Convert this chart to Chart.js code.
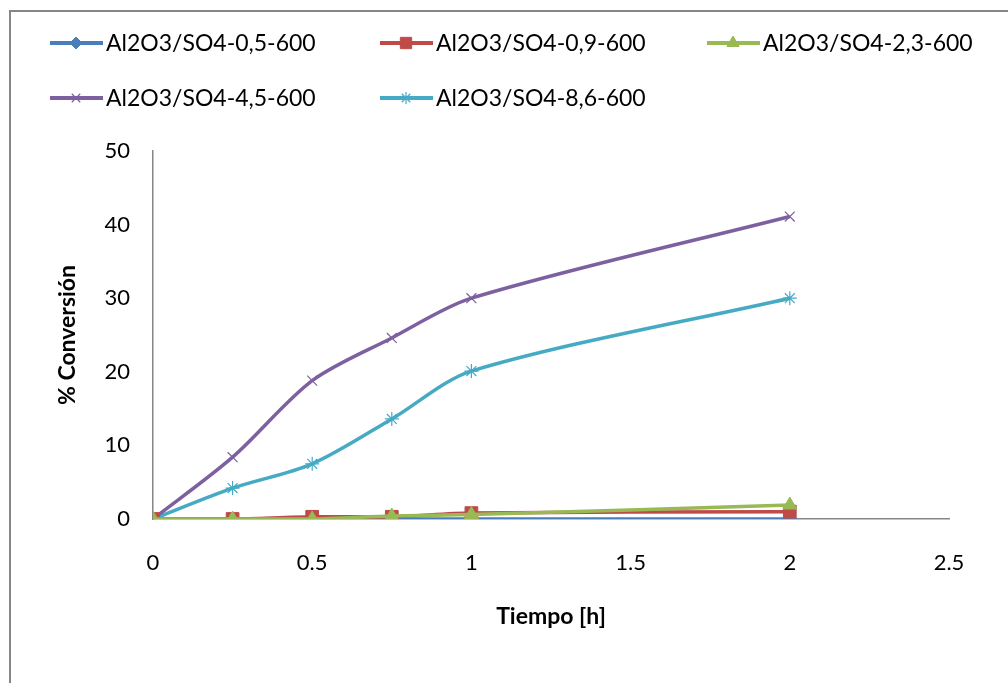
<!DOCTYPE html>
<html>
<head>
<meta charset="utf-8">
<script src="https://cdn.jsdelivr.net/npm/chart.js@4/dist/chart.umd.min.js"></script>
<style>
  html, body { margin: 0; padding: 0; background: #fff; }
  #wrap { width: 1008px; height: 683px; }
</style>
</head>
<body>
<div id="wrap"><canvas id="chart" width="1008" height="683"></canvas></div>
<script>
// --- data ---
const tiempo = [0, 0.25, 0.5, 0.75, 1, 2];
const conv05 = [0, 0, 0, 0, 0, 0];
const conv09 = [0, 0, 0.3, 0.3, 0.8, 1.0];
const conv23 = [0, 0, 0, 0.4, 0.6, 1.9];
const conv45 = [0, 8.4, 18.8, 24.6, 30.0, 41.1];
const conv86 = [0, 4.2, 7.5, 13.6, 20.1, 30.0];

const labels = ['Al2O3/SO4-0,5-600', 'Al2O3/SO4-0,9-600', 'Al2O3/SO4-2,3-600', 'Al2O3/SO4-4,5-600', 'Al2O3/SO4-8,6-600'];
const colors = ['#4a7ebb', '#be4b48', '#98b954', '#7d60a0', '#46aac5'];
const markers = ['rectRot', 'rect', 'triangle', 'crossRot', 'star'];
const markerSize = [7, 9, 8, 7, 7];
const xTicks = [0, 0.5, 1, 1.5, 2, 2.5];

const FONT = 'Lato, "Open Sans", sans-serif';

function toPoints(ys) {
    return tiempo.map((t, i) => ({ x: t, y: ys[i] }));
}

const series = [conv05, conv09, conv23, conv45, conv86];
// lower order is painted on top: green over red over blue, big curves underneath
const drawOrder = [2, 1, 0, 3, 4];
const datasets = series.map((ys, i) => ({
    label: labels[i],
    data: toPoints(ys),
    order: drawOrder[i],
    borderColor: colors[i],
    backgroundColor: colors[i],
    borderWidth: 3.5,
    showLine: true,
    tension: 0.3,
    pointStyle: markers[i],
    pointRadius: markerSize[i],
    pointBorderWidth: (markers[i] === 'crossRot' || markers[i] === 'star') ? 1.2 : 1,
    pointBorderColor: colors[i],
    pointBackgroundColor: colors[i]
}));

// frame + custom legend laid out like the spreadsheet one
const frameAndLegend = {
    id: 'frameAndLegend',
    beforeDraw(chart) {
        const ctx = chart.ctx;
        ctx.save();
        ctx.strokeStyle = '#868686';
        ctx.lineWidth = 2;
        ctx.strokeRect(10, 11, 1200, 900);
        ctx.restore();
    },
    afterDraw(chart) {
        const ctx = chart.ctx;
        const slots = [[50, 43], [380, 43], [707, 43], [50, 98], [380, 98]];
        ctx.save();
        chart.data.datasets.forEach((ds, i) => {
            const [x, y] = slots[i];
            ctx.strokeStyle = ds.borderColor;
            ctx.fillStyle = ds.borderColor;
            ctx.lineWidth = 4;
            ctx.beginPath();
            ctx.moveTo(x, y);
            ctx.lineTo(x + 53, y);
            ctx.stroke();
            ctx.lineWidth = ds.pointBorderWidth;
            Chart.helpers.drawPoint(ctx, { pointStyle: ds.pointStyle, radius: ds.pointRadius - 1, rotation: 0, borderWidth: ds.pointBorderWidth }, x + 26, y);
            ctx.fillStyle = '#000';
            ctx.font = '23px ' + FONT;
            ctx.textBaseline = 'middle';
            ctx.textAlign = 'left';
            ctx.fillText(ds.label, x + 56, y + 1);
        });
        ctx.restore();
    }
};

new Chart(document.getElementById('chart'), {
    type: 'scatter',
    data: { datasets: datasets },
    options: {
        responsive: false,
        animation: false,
        layout: { padding: { top: 151, right: 59, left: 0, bottom: 0 } },
        plugins: {
            legend: { display: false },
            tooltip: { enabled: false }
        },
        scales: {
            x: {
                type: 'linear',
                min: 0,
                max: 2.5,
                afterBuildTicks: (scale) => { scale.ticks = xTicks.map(v => ({ value: v })); },
                afterFit: (scale) => { scale.height = 683 - 519; },
                grid: { display: false, drawTicks: false },
                border: { display: true, color: '#868686', width: 1.5 },
                ticks: {
                    color: '#000',
                    padding: 31,
                    font: { family: FONT, size: 22 },
                    callback: (v) => String(v)
                },
                title: {
                    display: true,
                    text: 'Tiempo [h]',
                    color: '#000',
                    font: { family: FONT, size: 23, weight: 'bold' },
                    padding: { top: 0, bottom: 53 }
                }
            },
            y: {
                min: 0,
                max: 50,
                afterFit: (scale) => { scale.width = 153; },
                grid: { display: false, drawTicks: false },
                border: { display: true, color: '#868686', width: 1.5 },
                ticks: {
                    stepSize: 10,
                    color: '#000',
                    padding: 23,
                    font: { family: FONT, size: 22 }
                },
                title: {
                    display: true,
                    text: '% Conversión',
                    color: '#000',
                    font: { family: FONT, size: 23, weight: 'bold' },
                    padding: { top: 54, bottom: 0 }
                }
            }
        }
    },
    plugins: [frameAndLegend]
});
</script>
</body>
</html>
